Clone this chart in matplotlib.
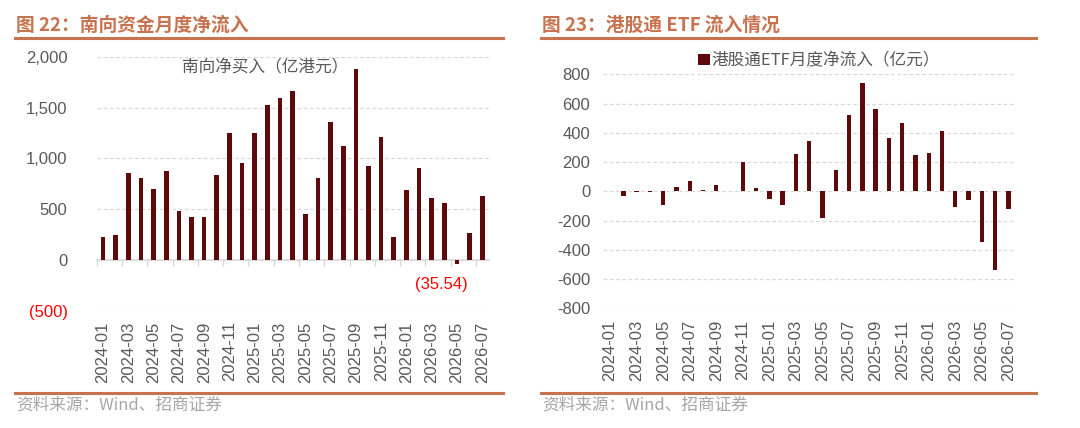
import matplotlib
matplotlib.use("Agg")
import matplotlib.pyplot as plt
from matplotlib.lines import Line2D
from matplotlib.ticker import FuncFormatter
import numpy as np

# ---------------- data ----------------
months = ["2024-01", "2024-02", "2024-03", "2024-04", "2024-05", "2024-06",
          "2024-07", "2024-08", "2024-09", "2024-10", "2024-11", "2024-12",
          "2025-01", "2025-02", "2025-03", "2025-04", "2025-05", "2025-06",
          "2025-07", "2025-08", "2025-09", "2025-10", "2025-11", "2025-12",
          "2026-01", "2026-02", "2026-03", "2026-04", "2026-05", "2026-06",
          "2026-07"]
southbound = [230, 246, 859, 803, 702, 875, 480, 420, 423, 836, 1246, 951,
              1252, 1521, 1597, 1662, 456, 803, 1354, 1118, 1879, 925, 1213,
              225, 689, 904, 613, 566, -35.54, 268, 629]
etf_flow = [4, -34, -3, -3, -95, 32, 73, 8, 43, 0, 200, 25, -52, -91, 255,
            341, -182, 145, 525, 743, 566, 364, 466, 248, 261, 411, -107, -59,
            -350, -536, -118]
left_yticks = [-500, 0, 500, 1000, 1500, 2000]
right_yticks = [-800, -600, -400, -200, 0, 200, 400, 600, 800]
left_title = "图 22：南向资金月度净流入"
right_title = "图 23：港股通 ETF 流入情况"
left_legend = "南向净买入（亿港元）"
right_legend = "港股通ETF月度净流入（亿元）"
source = "资料来源：Wind、招商证券"

# ---------------- style ----------------
W, H = 1080, 428
CJK = ["Noto Sans CJK SC", "DejaVu Sans"]
NUM = ["Liberation Sans", "DejaVu Sans"]
BAR = "#5E0A0A"
ACCENT = "#C8734F"
GRID = "#D9D9D9"
TXT = "#595959"

plt.rcParams["font.family"] = NUM

fig = plt.figure(figsize=(W / 100, H / 100), dpi=100)
fig.patch.set_facecolor("white")


def px_axes(l, t, r, b):
    return fig.add_axes([l / W, 1 - b / H, (r - l) / W, (b - t) / H])


def fmt_left(v, pos):
    if v < 0:
        return f"({abs(v):,.0f})"
    return f"{v:,.0f}"


def style_axes(ax, ylim, yticks, fmt, ypad, xpad, zero_frac, tick_len):
    x = np.arange(len(months))
    ax.set_xlim(-0.5, len(months) - 0.5)
    ax.set_ylim(*ylim)
    for s in ax.spines.values():
        s.set_visible(False)
    ax.set_yticks(yticks)
    ax.yaxis.set_major_formatter(FuncFormatter(fmt))
    ax.tick_params(axis="y", length=0, pad=ypad, labelsize=12, labelcolor=TXT)
    ax.set_xticks(x[::2])
    ax.set_xticklabels(months[::2], rotation=90, fontsize=12, color=TXT)
    ax.tick_params(axis="x", length=0, pad=xpad)
    ax.grid(axis="y", color=GRID, linestyle=(0, (3, 2)), linewidth=0.9)
    ax.set_axisbelow(True)
    # category axis at zero (with tick marks between groups of two months)
    sec = ax.secondary_xaxis(zero_frac)
    sec.set_xticks(np.arange(-0.5, len(months) - 1, 2))
    sec.set_xticklabels([])
    sec.tick_params(axis="x", length=tick_len, width=1, color=GRID,
                    direction="out")
    sec.spines["bottom"].set_color(GRID)
    sec.spines["bottom"].set_linewidth(1.2)
    for k in ("top", "left", "right"):
        sec.spines[k].set_visible(False)
    return x


# ---------------- left chart ----------------
axL = px_axes(96.7, 56.7, 488.6, 311)
xL = style_axes(axL, (-500, 2000), left_yticks, fmt_left, 21, 7.5, 0.2, 4)
barsL = axL.bar(xL, southbound, width=0.37, color=BAR, zorder=3)
for lab, v in zip(axL.get_yticklabels(), left_yticks):
    if v < 0:
        lab.set_color("#FF0000")
neg_i = int(np.argmin(southbound))
axL.annotate(f"({abs(southbound[neg_i]):.2f})", xy=(xL[neg_i], southbound[neg_i]),
             xytext=(-11, -15), textcoords="offset points", ha="center",
             va="center", fontsize=12, color="#FF0000")
legL = axL.legend([barsL], [left_legend], loc="center",
                  bbox_to_anchor=(0.43, 0.955), frameon=False, handlelength=0,
                  handletextpad=0, prop={"family": CJK, "size": 12})
for t in legL.get_texts():
    t.set_color(TXT)
for h in legL.legend_handles:
    h.set_visible(False)

# ---------------- right chart ----------------
axR = px_axes(603.4, 74.3, 1015, 308.3)
xR = style_axes(axR, (-800, 800), right_yticks,
                lambda v, p: f"{v:.0f}", 9.5, 8.5, 0.5, 0)
barsR = axR.bar(xR, etf_flow, width=0.33, color=BAR, zorder=3)
legR = axR.legend([barsR], [right_legend], loc="center",
                  bbox_to_anchor=(0.524, 1.058), frameon=False,
                  handlelength=0.7, handleheight=0.7, handletextpad=0.1,
                  prop={"family": CJK, "size": 12})
for t in legR.get_texts():
    t.set_color(TXT)

# ---------------- headers / footers ----------------
for (x0, x1), title in (((15, 503), left_title), ((541, 1036), right_title)):
    fig.add_artist(Line2D([x0 / W, x1 / W], [1 - 38.3 / H] * 2,
                          color=ACCENT, linewidth=2.2))
    fig.add_artist(Line2D([x0 / W, x1 / W], [1 - 392.7 / H] * 2,
                          color=ACCENT, linewidth=2.2))
    fig.text((x0 + 1) / W, 1 - 25 / H, title, fontsize=13.5, fontweight="bold",
             color=ACCENT, family=CJK, ha="left", va="center")
    fig.text((x0 + 1) / W, 1 - 405.5 / H, source, fontsize=12,
             color="#A6A6A6", family=CJK, ha="left", va="center")

fig.savefig("out.png", dpi=100, facecolor="white")
